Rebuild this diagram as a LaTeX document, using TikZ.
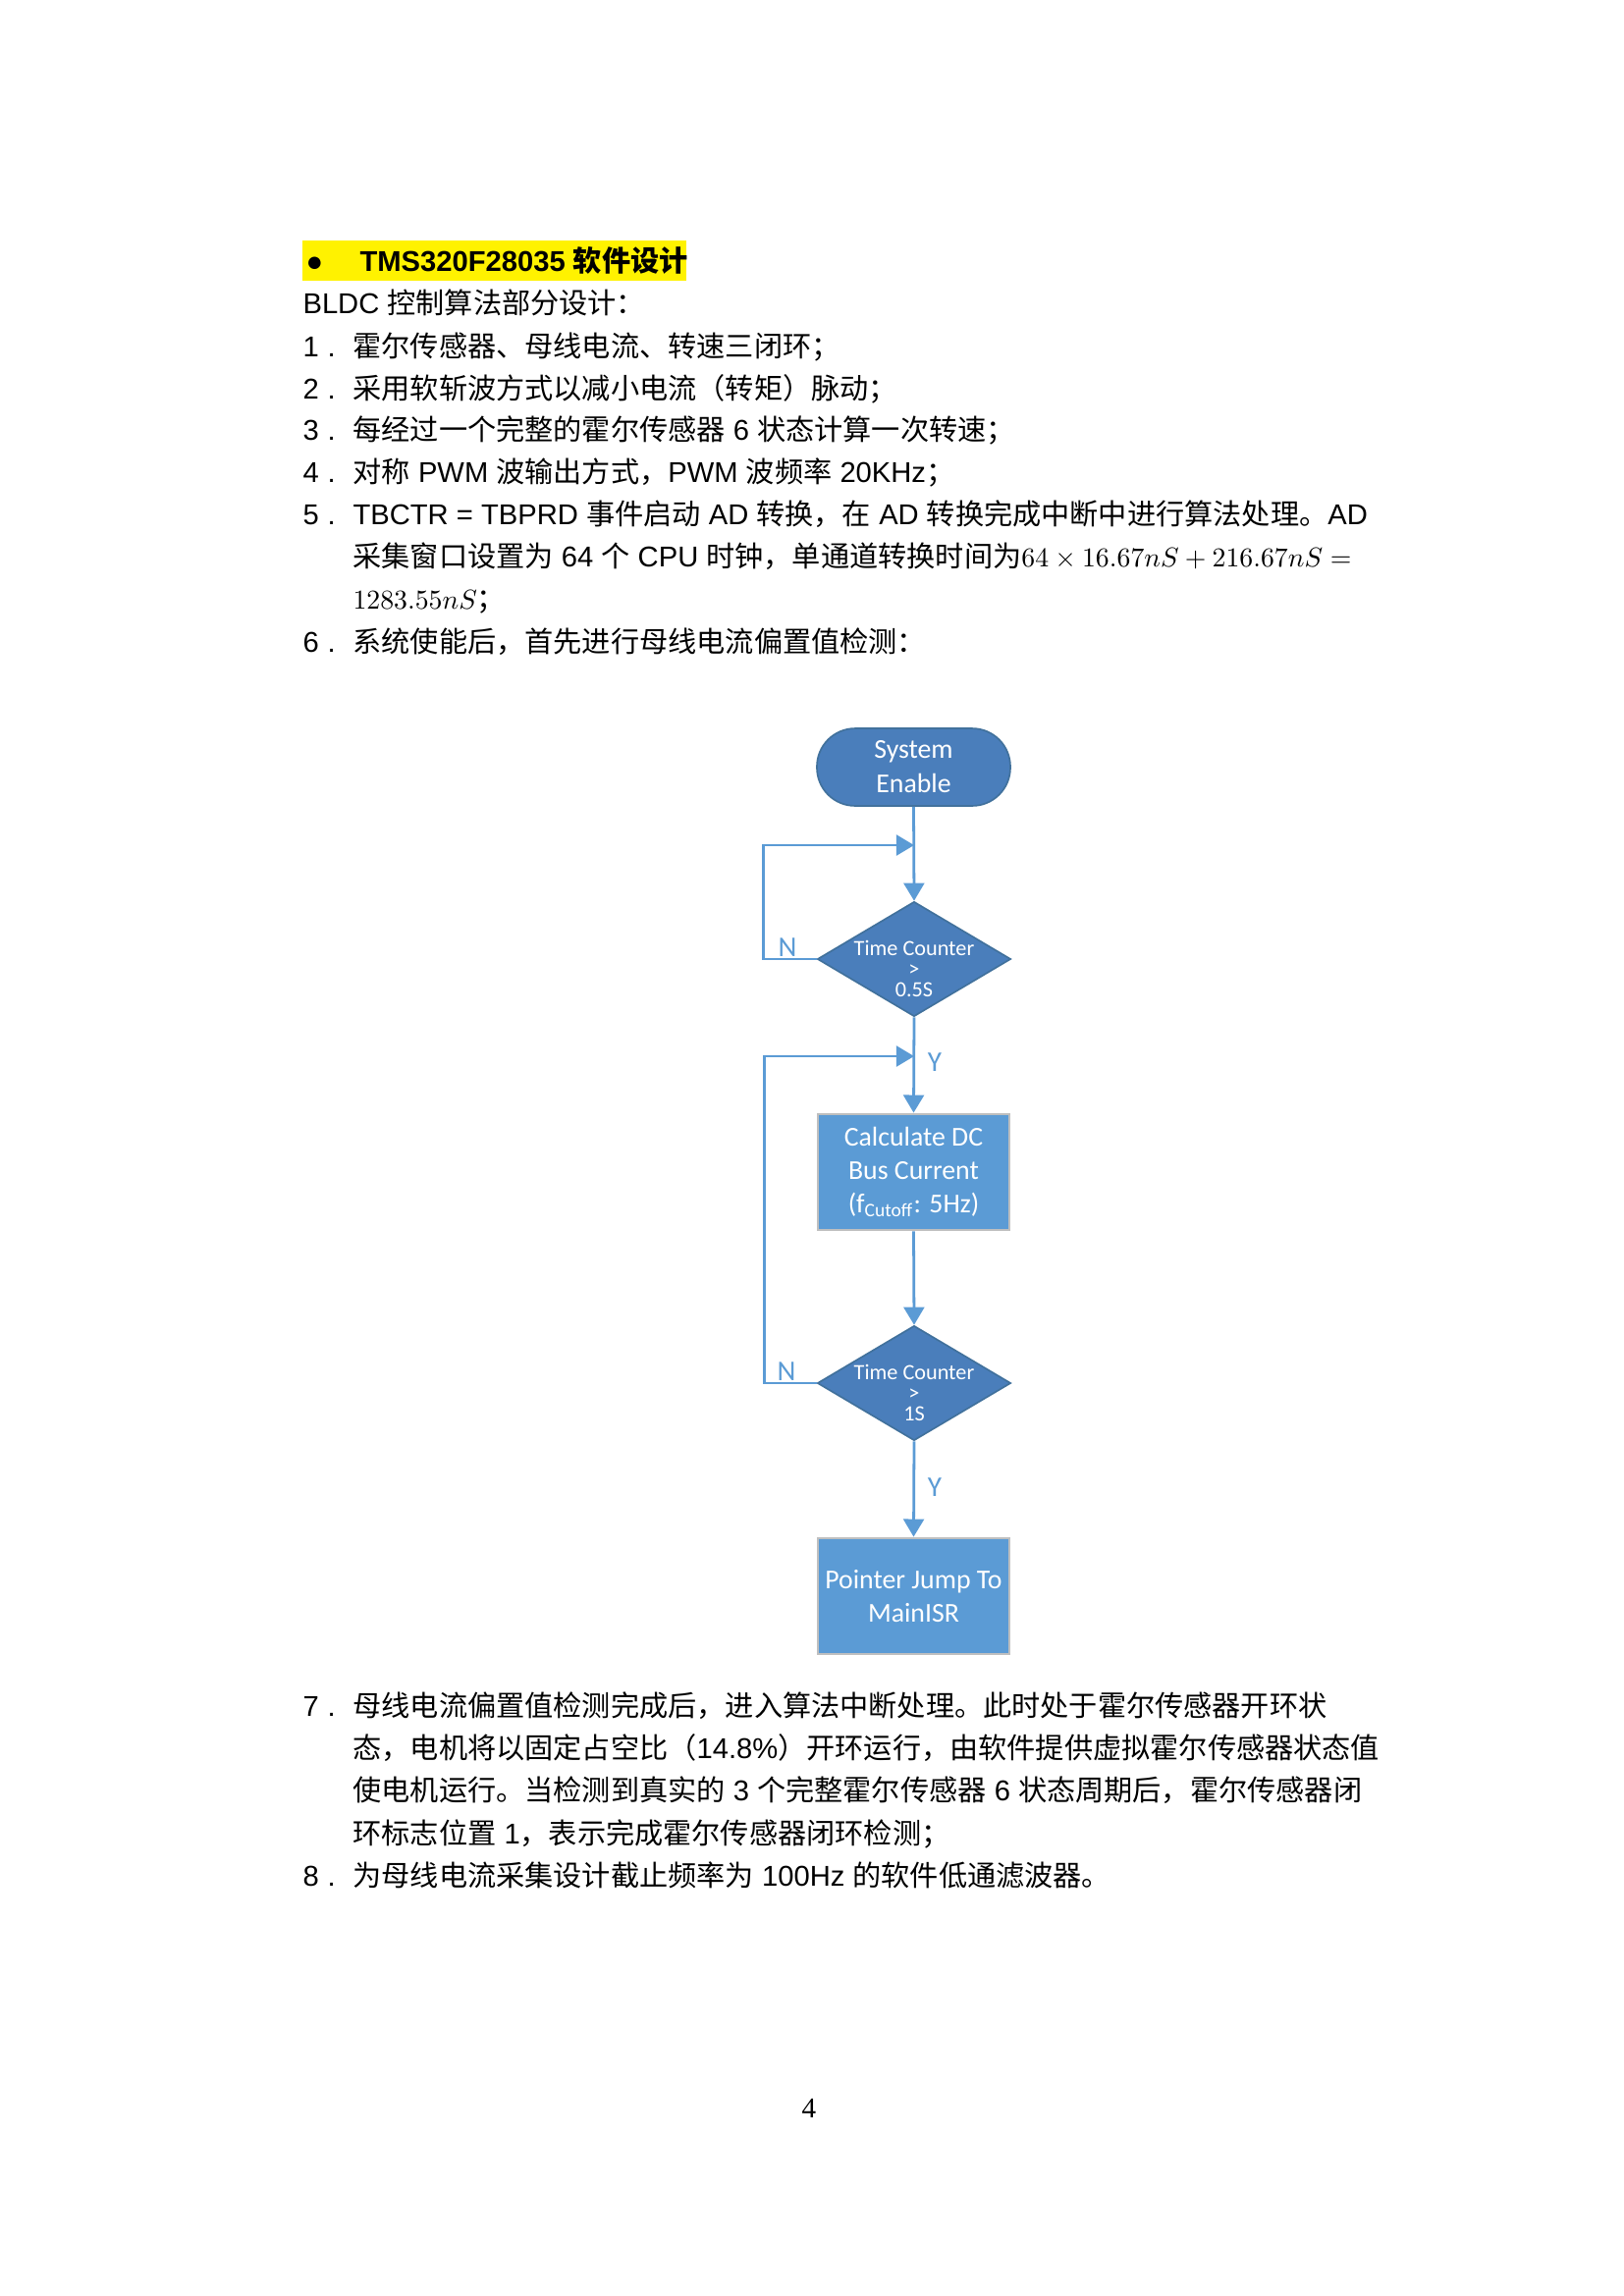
\documentclass[tikz,border=0pt]{standalone}
\usepackage[no-math]{fontspec}
\setmainfont{Liberation Sans}
\newfontfamily\cjk{Noto Sans CJK SC}
\newfontfamily\flowfont{Carlito}
\newfontfamily\pgfont{Liberation Serif}
\newcommand\C[1]{{\cjk #1}}
\newcommand\M[1]{{\fontsize{10}{12}\selectfont$#1$}}
\usetikzlibrary{shapes.geometric,arrows.meta}
\definecolor{termfill}{HTML}{4A7EBB}
\definecolor{termdraw}{HTML}{41719C}
\definecolor{boxfill}{HTML}{5B9BD5}
\definecolor{boxdraw}{HTML}{BFBFBF}
\definecolor{flowc}{HTML}{5B9BD5}
\begin{document}
\begin{tikzpicture}[x=0.3599pt,y=-0.3599pt,
  tl/.style={anchor=base west,inner sep=0pt,font=\fontsize{10.5}{12}\selectfont},
  num/.style={anchor=base west,inner sep=0pt,font=\fontsize{10.5}{12}\selectfont},
  term/.style={rectangle,rounded corners=14pt,minimum width=70.9pt,minimum height=28.4pt,
    fill=termfill,draw=termdraw,line width=0.6pt,text=white,align=center,inner sep=0pt,
    font=\flowfont\fontsize{10}{12.6}\selectfont},
  dia/.style={diamond,minimum width=70.9pt,minimum height=42.1pt,inner sep=0pt,
    fill=termfill,draw=termdraw,line width=0.6pt},
  diatext/.style={text=white,align=center,inner sep=0pt,font=\flowfont\fontsize{8}{7.6}\selectfont},
  procbox/.style={rectangle,minimum width=70.2pt,minimum height=42.5pt,fill=boxfill,
    draw=boxdraw,line width=1pt,text=white,align=center,inner sep=0pt,
    font=\flowfont\fontsize{10}{12.2}\selectfont},
  flowline/.style={draw=flowc,line width=1pt,-{Triangle[length=6.5pt,width=7.5pt]}},
  flowlabel/.style={text=flowc,inner sep=0pt,font=\flowfont\fontsize{10.5}{12}\selectfont}
]
\useasboundingbox (0,0) rectangle (1654,2339);
\fill[white] (0,0) rectangle (1654,2339);

% ---- header ----
\fill[yellow] (308,245) rectangle (699,286);
\node[num] (bul) at (311,276) {●};
\node[tl,font=\fontsize{10.5}{12}\selectfont\bfseries] (hdr) at (366,276) {TMS320F28035 {\cjk\bfseries 软件设计}};
\node[tl] (l0) at (308,319) {BLDC \C{控制算法部分设计：}};

\node[num] (n1) at (308,363) {1\hspace{3.2pt}.};
\node[tl] (l1) at (359,363) {\C{霍尔传感器、母线电流、转速三闭环；}};
\node[num] (n2) at (308,406) {2\hspace{3.2pt}.};
\node[tl] (l2) at (359,406) {\C{采用软斩波方式以减小电流（转矩）脉动；}};
\node[num] (n3) at (308,448) {3\hspace{3.2pt}.};
\node[tl] (l3) at (359,448) {\C{每经过一个完整的霍尔传感器} 6 \C{状态计算一次转速；}};
\node[num] (n4) at (308,491) {4\hspace{3.2pt}.};
\node[tl] (l4) at (359,491) {\C{对称} PWM \C{波输出方式，}PWM \C{波频率} 20KHz\C{；}};
\node[num] (n5) at (308,534) {5\hspace{3.2pt}.};
\node[tl] (l5) at (359,534) {TBCTR = TBPRD \C{事件启动} AD \C{转换，在} AD \C{转换完成中断中进行算法处理。}AD};
\node[tl] (l5b) at (359,577) {\C{采集窗口设置为} 64 \C{个} CPU \C{时钟，单通道转换时间为}\M{64\times16.67nS+216.67nS=}};
\node[tl] (l5c) at (359,620) {\M{1283.55nS}\C{；}};
\node[num] (n6) at (308,664) {6\hspace{3.2pt}.};
\node[tl] (l6) at (359,664) {\C{系统使能后，首先进行母线电流偏置值检测：}};

% ---- flowchart ----
\node[term] (start) at (930.5,781.5) {System\\Enable};
\node[dia] (d1) at (931,977) {};
\node[diatext] (d1t) at (931,987) {Time Counter\\>\\0.5S};
\node[procbox] (b1) at (930.5,1194) {Calculate DC\\Bus Current\\(f\textsubscript{Cutoff}: 5Hz)};
\node[dia] (d2) at (931,1409) {};
\node[diatext] (d2t) at (931,1419) {Time Counter\\>\\1S};
\node[procbox] (b2) at (930.5,1626) {Pointer Jump To\\MainISR};

\coordinate (j1) at (931,861);
\coordinate (j2) at (931,1076);

\draw[flowline] (start.south) -- (d1.north);
\draw[flowline] (d1.west) -- ++(-54,0) |- (j1);
\draw[flowline] (d1.south) -- (b1.north);
\draw[flowline] (b1.south) -- (d2.north);
\draw[flowline] (d2.west) -- ++(-53,0) |- (j2);
\draw[flowline] (d2.south) -- (b2.north);

\node[flowlabel] (nl1) at (802,965) {N};
\node[flowlabel] (yl1) at (952,1082) {Y};
\node[flowlabel] (nl2) at (801,1397) {N};
\node[flowlabel] (yl2) at (952,1515) {Y};

% ---- bottom text ----
\node[num] (n7) at (308,1748) {7\hspace{3.2pt}.};
\node[tl] (l7) at (359,1748) {\C{母线电流偏置值检测完成后，进入算法中断处理。此时处于霍尔传感器开环状}};
\node[tl] (l7b) at (359,1791) {\C{态，电机将以固定占空比（}14.8\%\C{）开环运行，由软件提供虚拟霍尔传感器状态值}};
\node[tl] (l7c) at (359,1834) {\C{使电机运行。当检测到真实的} 3 \C{个完整霍尔传感器} 6 \C{状态周期后，霍尔传感器闭}};
\node[tl] (l7d) at (359,1878) {\C{环标志位置} 1\C{，表示完成霍尔传感器闭环检测；}};
\node[num] (n8) at (308,1921) {8\hspace{3.2pt}.};
\node[tl] (l8) at (359,1921) {\C{为母线电流采集设计截止频率为} 100Hz \C{的软件低通滤波器。}};

\node[anchor=base,inner sep=0pt,font=\pgfont\fontsize{10.5}{12}\selectfont] (pg) at (824,2157) {4};
\end{tikzpicture}
\end{document}
